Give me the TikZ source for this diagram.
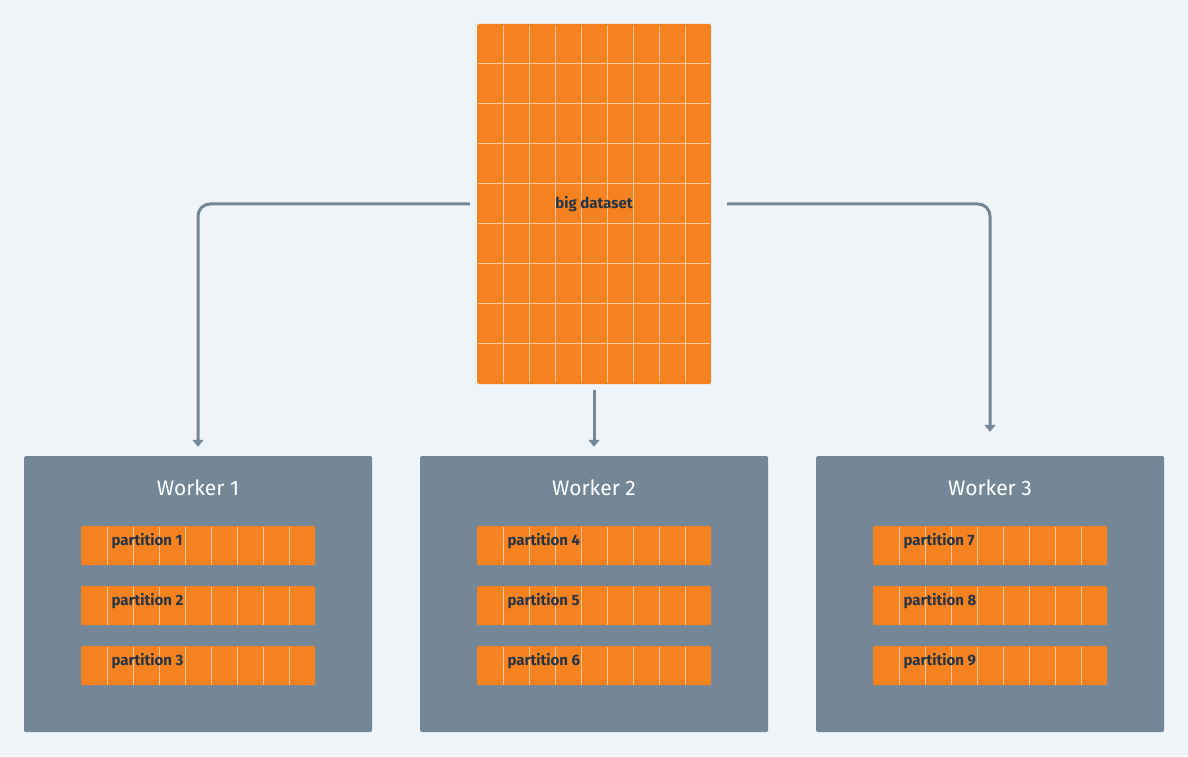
\documentclass[tikz,border=0pt]{standalone}
\usepackage{fontspec}
\setmainfont{Fira Sans}
\usetikzlibrary{arrows.meta}
\definecolor{bgblue}{HTML}{EEF4F8}
\definecolor{slate}{HTML}{748797}
\definecolor{chunk}{HTML}{F6821F}
\definecolor{ink}{HTML}{263545}
\tikzset{
  worker/.style={fill=slate, rounded corners=1.5pt, minimum width=348pt, minimum height=276pt, inner sep=0pt},
  part/.style={fill=chunk, rounded corners=1pt, minimum width=234pt, minimum height=39pt, inner sep=0pt},
  flow/.style={draw=slate, line width=3pt, rounded corners=12pt, -{Triangle[width=11pt,length=7pt]}},
  cell/.style={draw=white!55!chunk, line width=1pt}
}
\begin{document}
\begin{tikzpicture}[x=1pt,y=1pt]
  \fill[bgblue] (0,0) rectangle (1188,756);
  \useasboundingbox (0,0) rectangle (1188,756);

  % the big dataset
  \node[fill=chunk, rounded corners=1.5pt, minimum width=234pt, minimum height=360pt, inner sep=0pt] (data) at (594,552) {};
  \foreach \i in {1,...,8}
    \draw[cell] (477+26*\i,373) -- (477+26*\i,731);
  \foreach \j in {1,...,8}
    \draw[cell] (478,372+40*\j) -- (710,372+40*\j);
  \node[font=\bfseries\fontsize{15}{18}\selectfont, text=ink] at (data) {big dataset};

  % workers
  \foreach \w/\x in {1/198,2/594,3/990}{
    \node[worker] (w\w) at (\x,162) {};
    \node[font=\fontsize{21}{25}\selectfont, text=white] at (\x,268) {Worker \w};
    \foreach \p/\y in {1/210.5,2/150.5,3/90.5}{
      \pgfmathtruncatemacro\n{3*(\w-1)+\p}
      \node[part] (p\n) at (\x,\y) {};
      \foreach \i in {1,...,8}
        \draw[cell] (\x-117+26*\i,\y-19) -- (\x-117+26*\i,\y+19);
      \node[font=\bfseries\fontsize{15}{18}\selectfont, text=ink, anchor=west] at (\x-90,\y+4) {partition \n};
    }
  }

  % connectors
  \draw[flow, shorten >=9pt] ([xshift=-7pt]data.west) -| (w1.north);
  \draw[flow, shorten <=6pt, shorten >=9pt] (data.south) -- (w2.north);
  \draw[flow, shorten >=24pt] ([xshift=16pt]data.east) -| (w3.north);
\end{tikzpicture}
\end{document}
